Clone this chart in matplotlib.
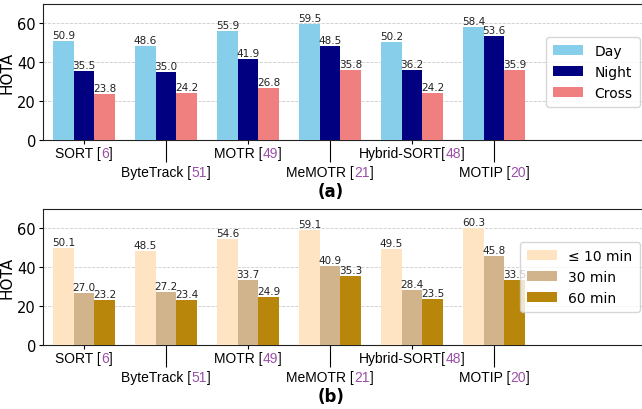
import matplotlib
matplotlib.use("Agg")
import matplotlib.pyplot as plt
import numpy as np
from matplotlib.offsetbox import TextArea, HPacker, AnnotationBbox

# данные
methods = ["SORT", "ByteTrack", "MOTR", "MeMOTR", "Hybrid-SORT", "MOTIP"]
refs = ["6", "51", "49", "21", "48", "20"]
seps = [" ", " ", " ", " ", "", " "]

day = [50.9, 48.6, 55.9, 59.5, 50.2, 58.4]
night = [35.5, 35.0, 41.9, 48.5, 36.2, 53.6]
cross = [23.8, 24.2, 26.8, 35.8, 24.2, 35.9]

min10 = [50.1, 48.5, 54.6, 59.1, 49.5, 60.3]
min30 = [27.0, 27.2, 33.7, 40.9, 28.4, 45.8]
min60 = [23.2, 23.4, 24.9, 35.3, 23.5, 33.5]

labels_a = ["Day", "Night", "Cross"]
colors_a = ["skyblue", "navy", "lightcoral"]
labels_b = ["\u2264 10 min", "30 min", "60 min"]
colors_b = ["bisque", "tan", "darkgoldenrod"]

ref_color = "#9b4fa8"
W = 642 / 100
H = 410 / 100


def draw_panel(ax, series, labels, colors):
	x = np.arange(len(methods))
	width = 0.25
	for k, (vals, lab, col) in enumerate(zip(series, labels, colors)):
		bars = ax.bar(x + (k - 1) * width, vals, width, color=col, label=lab, zorder=3)
		for b, v in zip(bars, vals):
			ax.text(b.get_x() + b.get_width() / 2, v + 0.5, "%.1f" % v,
					ha="center", va="bottom", fontsize=7.5, color="#222222", zorder=4)
	ax.set_ylim(0, 70)
	ax.set_xlim(-0.5, 6.86)
	ax.set_yticks([0, 20, 40, 60])
	ax.tick_params(axis="y", labelsize=10.5, length=3, pad=2)
	ax.set_ylabel("HOTA", fontsize=11, labelpad=2)
	ax.grid(axis="y", linestyle="--", color="#cccccc", linewidth=0.6, zorder=0)
	ax.spines["right"].set_visible(False)
	for s in ["left", "bottom", "top"]:
		ax.spines[s].set_color("#222222")
	ax.set_xticks(x)
	ax.set_xticklabels([])
	for i, t in enumerate(ax.xaxis.get_major_ticks()):
		t.tick1line.set_color("#555555")
		if i % 2 == 1:
			t.tick1line.set_markersize(16)
		else:
			t.tick1line.set_markersize(3)
	# подписи методов: номер ссылки фиолетовым
	for i in range(len(methods)):
		props = dict(fontsize=10, family="Liberation Sans")
		parts = [TextArea(methods[i] + seps[i] + "[", textprops=dict(color="black", **props)),
				 TextArea(refs[i], textprops=dict(color=ref_color, **props)),
				 TextArea("]", textprops=dict(color="black", **props))]
		box = HPacker(children=parts, align="baseline", pad=0, sep=0)
		dy = -4 if i % 2 == 0 else -18
		ab = AnnotationBbox(box, (i, 0), xycoords=("data", "axes fraction"),
							xybox=(0, dy), boxcoords="offset points",
							box_alignment=(0.5, 1), frameon=False, pad=0)
		ax.add_artist(ab)
	leg = ax.legend(loc="center right", fontsize=10, handlelength=2.2, borderpad=0.5)
	leg.get_frame().set_edgecolor("#cccccc")


fig = plt.figure(figsize=(W, H), dpi=100)
ax1 = fig.add_axes([43 / 642, 1 - 141 / 410, 0.94, 136 / 410])
ax2 = fig.add_axes([43 / 642, 1 - 346 / 410, 0.94, 136 / 410])

draw_panel(ax1, [day, night, cross], labels_a, colors_a)
draw_panel(ax2, [min10, min30, min60], labels_b, colors_b)

fig.text(331 / 642, 1 - 192 / 410, "(a)", ha="center", va="center", fontsize=12, fontweight="bold")
fig.text(331 / 642, 1 - 397 / 410, "(b)", ha="center", va="center", fontsize=12, fontweight="bold")

fig.savefig("out.png", dpi=100)
